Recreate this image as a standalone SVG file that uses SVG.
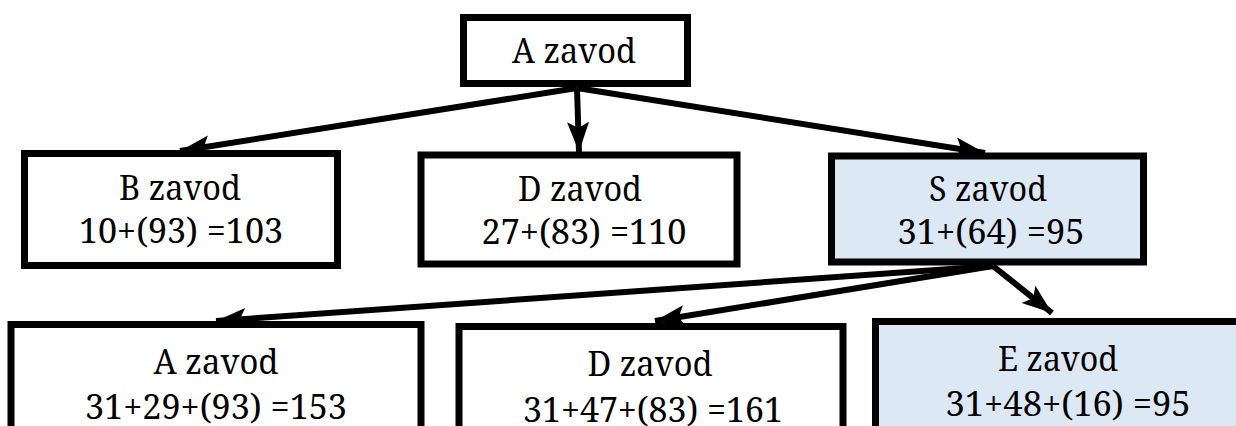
<svg xmlns="http://www.w3.org/2000/svg" width="1236" height="426" viewBox="0 0 1236 426">
  <style>
    .box { fill: #ffffff; stroke: #000000; stroke-width: 7; }
    .hl { fill: #dde8f5; }
    .t { font-family: "Noto Serif", "Liberation Serif", "DejaVu Serif", serif; font-size: 34px; fill: #000000; text-anchor: middle; }
    .c { stroke: #000000; stroke-width: 6; fill: none; marker-end: url(#ah); }
  </style>
  <defs>
    <marker id="ah" markerUnits="userSpaceOnUse" markerWidth="32" markerHeight="24" refX="30" refY="11" orient="auto">
      <path d="M0,0 L30,11 L0,22 L6,11 z" fill="#000000"/>
    </marker>
  </defs>
  <rect width="1236" height="426" fill="#ffffff"/>

  <g id="connectors">
    <line class="c" x1="577" y1="88" x2="180" y2="151"/>
    <line class="c" x1="577" y1="88" x2="579" y2="152"/>
    <line class="c" x1="577" y1="88" x2="985" y2="153"/>
    <line class="c" x1="993" y1="266" x2="216" y2="321"/>
    <line class="c" x1="993" y1="266" x2="655" y2="321"/>
    <line class="c" x1="993" y1="266" x2="1052" y2="313"/>
  </g>

  <g id="node-a-top">
    <rect class="box" x="463.5" y="17.5" width="224" height="66"/>
    <text class="t" x="574" y="63" textLength="124" lengthAdjust="spacingAndGlyphs">A zavod</text>
  </g>

  <g id="node-b">
    <rect class="box" x="24.5" y="153.5" width="313" height="112"/>
    <text class="t" x="180" y="200" textLength="122" lengthAdjust="spacingAndGlyphs">B zavod</text>
    <text class="t" x="181" y="243" textLength="204" lengthAdjust="spacingAndGlyphs">10+(93) =103</text>
  </g>

  <g id="node-d">
    <rect class="box" x="421" y="155" width="316" height="109"/>
    <text class="t" x="580" y="201" textLength="124" lengthAdjust="spacingAndGlyphs">D zavod</text>
    <text class="t" x="584" y="244" textLength="205" lengthAdjust="spacingAndGlyphs">27+(83) =110</text>
  </g>

  <g id="node-s">
    <rect class="box hl" x="831.5" y="156" width="312" height="106"/>
    <text class="t" x="988" y="201" textLength="118" lengthAdjust="spacingAndGlyphs">S zavod</text>
    <text class="t" x="991" y="244" textLength="187" lengthAdjust="spacingAndGlyphs">31+(64) =95</text>
  </g>

  <g id="node-a-bottom">
    <rect class="box" x="11" y="324.5" width="410" height="120"/>
    <text class="t" x="216" y="374" textLength="125" lengthAdjust="spacingAndGlyphs">A zavod</text>
    <text class="t" x="216" y="419" textLength="262" lengthAdjust="spacingAndGlyphs">31+29+(93) =153</text>
  </g>

  <g id="node-d-bottom">
    <rect class="box" x="459" y="326.5" width="384" height="120"/>
    <text class="t" x="650" y="376" textLength="125" lengthAdjust="spacingAndGlyphs">D zavod</text>
    <text class="t" x="653" y="422" textLength="260" lengthAdjust="spacingAndGlyphs">31+47+(83) =161</text>
  </g>

  <g id="node-e">
    <rect class="box hl" x="875.5" y="321.5" width="380" height="120"/>
    <text class="t" x="1058" y="371" textLength="120" lengthAdjust="spacingAndGlyphs">E zavod</text>
    <text class="t" x="1068" y="416" textLength="245" lengthAdjust="spacingAndGlyphs">31+48+(16) =95</text>
  </g>
</svg>
